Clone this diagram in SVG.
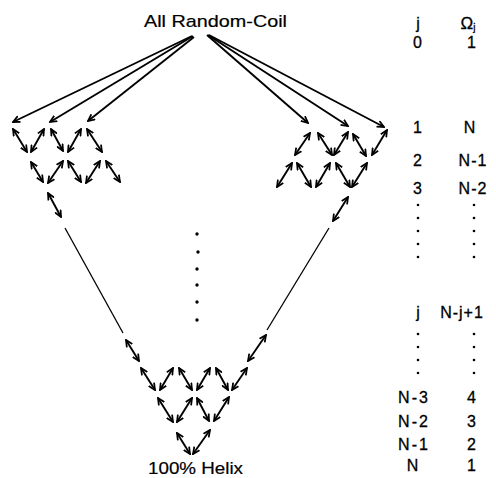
<svg xmlns="http://www.w3.org/2000/svg" width="496" height="478" viewBox="0 0 496 478">
  <style>
    .lbl { font-family: "Liberation Sans", Arial, sans-serif; font-size: 16px; fill: #000; stroke: #000; stroke-width: 0.3; letter-spacing: 1px; }
    .big { font-family: "Liberation Sans", Arial, sans-serif; font-size: 17px; fill: #000; stroke: #000; stroke-width: 0.2; }
    .ar { stroke: #000; stroke-width: 1.9; fill: none; }
    .dbl { marker-start: url(#head); marker-end: url(#head); }
    .sgl { marker-end: url(#head); }
    .thin { stroke: #000; stroke-width: 1.3; fill: none; }
    .dot { fill: #000; stroke: none; }
  </style>
  <defs>
    <marker id="head" viewBox="0 0 10 10" refX="9" refY="5" markerWidth="8" markerHeight="8" markerUnits="userSpaceOnUse" orient="auto-start-reverse">
      <path d="M0.5,1 L9,5 L0.5,9" fill="none" stroke="#000" stroke-width="2.2"/>
    </marker>
  </defs>
  <rect width="496" height="478" fill="#fff"/>

  <!-- states -->
  <g id="coil">
    <text class="big" x="144" y="27" textLength="143" lengthAdjust="spacingAndGlyphs">All Random-Coil</text>
  </g>
  <g id="helix">
    <text class="big" x="148" y="474" font-size="16" textLength="95" lengthAdjust="spacingAndGlyphs">100% Helix</text>
  </g>

  <!-- vertical ellipsis between the rows -->
  <g id="ellipsis">
    <circle class="dot" cx="197" cy="234" r="1.7"/>
    <circle class="dot" cx="198" cy="252" r="1.7"/>
    <circle class="dot" cx="197" cy="269" r="1.7"/>
    <circle class="dot" cx="197" cy="285" r="1.7"/>
    <circle class="dot" cx="197" cy="302" r="1.7"/>
    <circle class="dot" cx="197" cy="320" r="1.7"/>
  </g>

  <!-- table of j and Omega_j -->
  <g id="table" class="lbl" text-anchor="middle">
    <g id="hdr">
      <text x="418" y="29" letter-spacing="0">j</text>
      <text x="468" y="29" font-size="17" letter-spacing="0">Ω<tspan font-size="10" dy="2">j</tspan></text>
    </g>
    <g id="r0"><text x="418" y="48">0</text><text x="472" y="48">1</text></g>
    <g id="r1"><text x="418" y="133">1</text><text x="470" y="133">N</text></g>
    <g id="r2"><text x="418" y="166">2</text><text x="473" y="166">N-1</text></g>
    <g id="r3"><text x="418" y="194">3</text><text x="473" y="194">N-2</text></g>
    <g id="dots1">
      <circle class="dot" cx="418" cy="205" r="1.3"/><circle class="dot" cx="474" cy="205" r="1.3"/>
      <circle class="dot" cx="418" cy="218" r="1.3"/><circle class="dot" cx="474" cy="218" r="1.3"/>
      <circle class="dot" cx="418" cy="231" r="1.3"/><circle class="dot" cx="474" cy="231" r="1.3"/>
      <circle class="dot" cx="418" cy="244" r="1.3"/><circle class="dot" cx="474" cy="244" r="1.3"/>
      <circle class="dot" cx="418" cy="257" r="1.3"/><circle class="dot" cx="474" cy="257" r="1.3"/>
    </g>
    <g id="rj"><text x="418" y="318" letter-spacing="0">j</text><text x="462" y="318">N-j+1</text></g>
    <g id="dots2">
      <circle class="dot" cx="418" cy="334" r="1.3"/><circle class="dot" cx="474" cy="334" r="1.3"/>
      <circle class="dot" cx="418" cy="347" r="1.3"/><circle class="dot" cx="474" cy="347" r="1.3"/>
      <circle class="dot" cx="418" cy="360" r="1.3"/><circle class="dot" cx="474" cy="360" r="1.3"/>
      <circle class="dot" cx="418" cy="373" r="1.3"/><circle class="dot" cx="474" cy="373" r="1.3"/>
    </g>
    <g id="rn3"><text x="414" y="403" letter-spacing="2">N-3</text><text x="472" y="403">4</text></g>
    <g id="rn2"><text x="414" y="427" letter-spacing="2">N-2</text><text x="472" y="427">3</text></g>
    <g id="rn1"><text x="414" y="450" letter-spacing="2">N-1</text><text x="472" y="450">2</text></g>
    <g id="rn"><text x="413" y="471">N</text><text x="472" y="471">1</text></g>
  </g>

  <!-- transitions -->
  <g id="connectors">
    <!-- from the all-coil state -->
    <line class="ar sgl" x1="192" y1="36" x2="13" y2="122"/>
    <line class="ar sgl" x1="193" y1="36" x2="50" y2="122"/>
    <line class="ar sgl" x1="194" y1="37" x2="88" y2="121"/>
    <line class="ar sgl" x1="207" y1="35" x2="308" y2="123"/>
    <line class="ar sgl" x1="208" y1="35" x2="348" y2="126"/>
    <line class="ar sgl" x1="209" y1="35" x2="384" y2="127"/>

    <!-- left branch -->
    <line class="ar dbl" x1="13" y1="129" x2="27" y2="152"/>
    <line class="ar dbl" x1="31" y1="152" x2="44" y2="129"/>
    <line class="ar dbl" x1="51" y1="129" x2="63" y2="151"/>
    <line class="ar dbl" x1="68" y1="152" x2="81" y2="129"/>
    <line class="ar dbl" x1="87" y1="129" x2="102" y2="152"/>

    <line class="ar dbl" x1="31" y1="162" x2="43" y2="182"/>
    <line class="ar dbl" x1="48" y1="183" x2="63" y2="161"/>
    <line class="ar dbl" x1="68" y1="161" x2="81" y2="182"/>
    <line class="ar dbl" x1="86" y1="183" x2="100" y2="161"/>
    <line class="ar dbl" x1="106" y1="161" x2="120" y2="182"/>

    <line class="ar dbl" x1="48" y1="193" x2="61" y2="217"/>
    <line class="thin" x1="65" y1="228" x2="123" y2="333"/>

    <!-- right branch -->
    <line class="ar dbl" x1="295" y1="155" x2="310" y2="133"/>
    <line class="ar dbl" x1="318" y1="133" x2="332" y2="155"/>
    <line class="ar dbl" x1="334" y1="155" x2="348" y2="132"/>
    <line class="ar dbl" x1="353" y1="134" x2="366" y2="156"/>
    <line class="ar dbl" x1="372" y1="155" x2="387" y2="130"/>

    <line class="ar dbl" x1="277" y1="187" x2="292" y2="163"/>
    <line class="ar dbl" x1="297" y1="163" x2="311" y2="187"/>
    <line class="ar dbl" x1="316" y1="187" x2="330" y2="163"/>
    <line class="ar dbl" x1="336" y1="163" x2="350" y2="187"/>
    <line class="ar dbl" x1="352" y1="187" x2="367" y2="163"/>

    <line class="ar dbl" x1="333" y1="221" x2="348" y2="197"/>
    <line class="thin" x1="329" y1="228" x2="267" y2="330"/>

    <!-- toward the helix state -->
    <line class="ar dbl" x1="126" y1="340" x2="139" y2="361"/>
    <line class="ar dbl" x1="248" y1="361" x2="266" y2="335"/>

    <line class="ar dbl" x1="141" y1="368" x2="155" y2="390"/>
    <line class="ar dbl" x1="160" y1="390" x2="173" y2="368"/>
    <line class="ar dbl" x1="179" y1="368" x2="192" y2="390"/>
    <line class="ar dbl" x1="197" y1="390" x2="210" y2="368"/>
    <line class="ar dbl" x1="216" y1="368" x2="228" y2="390"/>
    <line class="ar dbl" x1="232" y1="390" x2="247" y2="368"/>

    <line class="ar dbl" x1="158" y1="398" x2="173" y2="422"/>
    <line class="ar dbl" x1="177" y1="422" x2="192" y2="398"/>
    <line class="ar dbl" x1="197" y1="398" x2="209" y2="421"/>
    <line class="ar dbl" x1="214" y1="421" x2="229" y2="397"/>

    <line class="ar dbl" x1="177" y1="433" x2="190" y2="454"/>
    <line class="ar dbl" x1="193" y1="454" x2="210" y2="430"/>
  </g>
</svg>
